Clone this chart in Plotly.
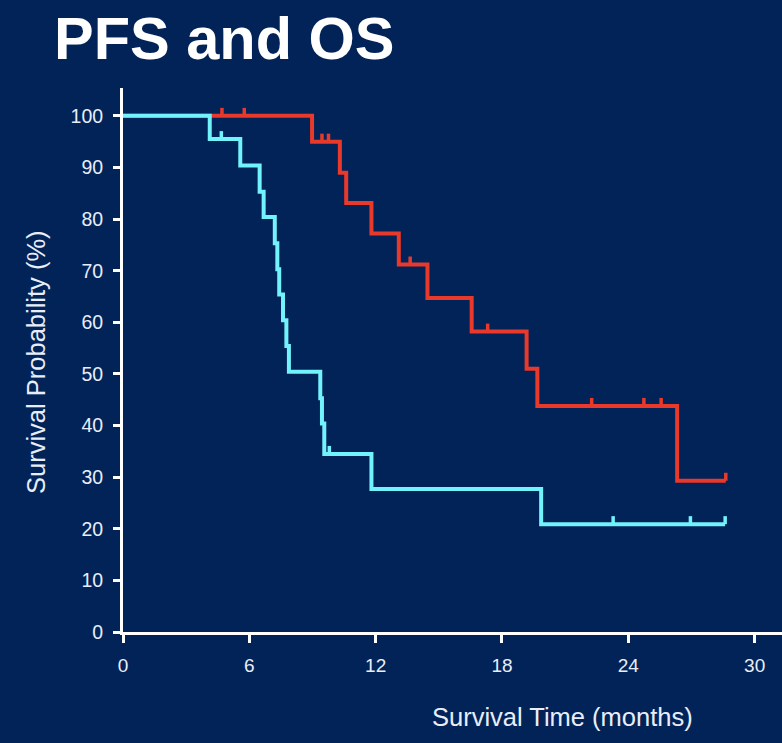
import plotly.graph_objects as go

# ---- data ----
os_time = [0, 8.98, 10.3, 10.6, 11.8, 13.1, 14.46, 16.56, 19.17, 19.68, 26.32, 28.63]
os_surv = [100, 95.0, 89.0, 83.1, 77.2, 71.2, 64.7, 58.2, 51.0, 43.8, 29.3, 29.3]
os_cens_time = [4.7, 5.76, 9.45, 9.76, 13.64, 17.32, 22.26, 24.74, 25.56, 28.63]
os_cens_surv = [100, 100, 95.0, 95.0, 71.2, 58.2, 43.8, 43.8, 43.8, 29.3]

pfs_time = [0, 4.12, 5.57, 6.49, 6.68, 7.21, 7.33, 7.42, 7.6, 7.76, 7.88, 9.37, 9.45, 9.56, 11.8, 19.86, 28.6]
pfs_surv = [100, 95.5, 90.4, 85.3, 80.4, 75.3, 70.3, 65.4, 60.4, 55.4, 50.4, 45.3, 40.4, 34.5, 27.7, 20.9, 20.9]
pfs_cens_time = [4.67, 9.8, 23.28, 26.95, 28.6]
pfs_cens_surv = [95.5, 34.5, 20.9, 20.9, 20.9]

x_ticks = [0, 6, 12, 18, 24, 30]
y_ticks = [0, 10, 20, 30, 40, 50, 60, 70, 80, 90, 100]

RED = "#E8392A"
CYAN = "#72F2FA"
BG = "#022358"
FONT = "Liberation Sans, Arial, sans-serif"

fig = go.Figure()

def add_curve(t, s, ct, cs, color, name):
    fig.add_trace(go.Scatter(x=t, y=s, mode="lines", line=dict(color=color, width=4, shape="hv"),
                             name=name, showlegend=False, hoverinfo="skip"))
    fig.add_trace(go.Scatter(x=ct, y=cs, mode="markers", marker=dict(size=0.1, color=color),
                             error_y=dict(type="constant", value=1.55, valueminus=0, symmetric=False,
                                          width=0, thickness=3.5, color=color),
                             name=name + " censored", showlegend=False, hoverinfo="skip"))

add_curve(os_time, os_surv, os_cens_time, os_cens_surv, RED, "OS")
add_curve(pfs_time, pfs_surv, pfs_cens_time, pfs_cens_surv, CYAN, "PFS")

fig.update_layout(
    width=782, height=743,
    margin=dict(l=123, r=0, t=88, b=111),
    paper_bgcolor=BG, plot_bgcolor=BG,
    font=dict(family=FONT, color="#E8EEF8"),
    showlegend=False,
    xaxis=dict(range=[0, 31.3], tickvals=x_ticks, ticktext=[str(v) for v in x_ticks],
               showgrid=False, zeroline=False, showline=True, linecolor="white", linewidth=3,
               ticks="outside", ticklen=8, tickwidth=3, tickcolor="white",
               tickfont=dict(size=19, color="#E8EEF8", family=FONT), ticklabelstandoff=6),
    yaxis=dict(range=[0, 105.4], tickvals=y_ticks, ticktext=[str(v) for v in y_ticks],
               showgrid=False, zeroline=False, showline=True, linecolor="white", linewidth=3,
               ticks="outside", ticklen=7, tickwidth=3, tickcolor="white",
               tickfont=dict(size=19.5, color="#E8EEF8", family=FONT), ticklabelstandoff=6),
    annotations=[
        dict(text="<b>PFS and OS</b>", xref="paper", yref="paper", x=(52 - 123) / 659, y=1 + (88 - 38) / 544,
             xanchor="left", yanchor="middle", showarrow=False,
             font=dict(size=59.5, color="white", family=FONT)),
        dict(text="Survival Probability (%)", xref="paper", yref="paper", x=(36 - 123) / 659,
             y=(632 - 362) / 544, textangle=-90, xanchor="center", yanchor="middle", showarrow=False,
             font=dict(size=25.5, color="#E8EEF8", family=FONT)),
        dict(text="Survival Time (months)", xref="paper", yref="paper", x=(562 - 123) / 659,
             y=-(717 - 632) / 544, xanchor="center", yanchor="middle", showarrow=False,
             font=dict(size=25.5, color="#E8EEF8", family=FONT)),
    ],
)

fig.write_html("out.html")
